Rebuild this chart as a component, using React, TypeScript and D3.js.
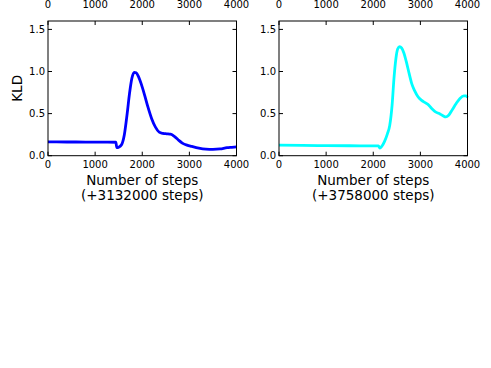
import { useRef, useEffect } from "react";
import * as d3 from "d3";

// steps (x) and KLD (y)
const leftSteps = [0, 400, 800, 1200, 1440, 1460, 1500, 1560, 1620, 1680, 1730, 1780, 1830, 1870, 1920, 1980, 2050, 2120, 2200, 2280, 2360, 2440, 2520, 2600, 2680, 2760, 2850, 2950, 3050, 3200, 3350, 3500, 3650, 3800, 3900, 4000];
const leftKld = [0.165, 0.163, 0.162, 0.161, 0.16, 0.095, 0.1, 0.13, 0.25, 0.5, 0.74, 0.92, 0.99, 0.985, 0.94, 0.85, 0.72, 0.58, 0.44, 0.34, 0.28, 0.265, 0.26, 0.255, 0.23, 0.19, 0.15, 0.125, 0.11, 0.09, 0.078, 0.075, 0.08, 0.095, 0.1, 0.105];

const rightSteps = [0, 500, 1000, 1500, 2000, 2110, 2140, 2180, 2240, 2300, 2350, 2400, 2440, 2480, 2520, 2560, 2600, 2650, 2700, 2760, 2820, 2880, 2950, 3020, 3100, 3160, 3240, 3320, 3400, 3480, 3540, 3600, 3680, 3760, 3840, 3920, 3970, 4000];
const rightKld = [0.125, 0.122, 0.12, 0.118, 0.117, 0.116, 0.09, 0.11, 0.17, 0.26, 0.36, 0.6, 0.92, 1.15, 1.27, 1.295, 1.28, 1.22, 1.12, 0.98, 0.85, 0.77, 0.7, 0.66, 0.63, 0.61, 0.56, 0.52, 0.5, 0.475, 0.46, 0.48, 0.55, 0.62, 0.68, 0.71, 0.71, 0.69];

const xTicks = [0, 1000, 2000, 3000, 4000];
const yTicks = [0.0, 0.5, 1.0, 1.5];
const panels = [
  { x0: 48, steps: leftSteps, kld: leftKld, color: "#0000ff", offset: "(+3132000 steps)", ylabel: true },
  { x0: 279, steps: rightSteps, kld: rightKld, color: "#00ffff", offset: "(+3758000 steps)", ylabel: false },
];

const App = () => {
  const svgRef = useRef<SVGSVGElement>(null);

  useEffect(() => {
    const svg = d3.select(svgRef.current);
    svg.selectAll("*").remove();
    const w = 188.5;
    const top = 21;
    const bottom = 155.7;
    const font = "DejaVu Sans";

    panels.forEach((p) => {
      const x = d3.scaleLinear().domain([0, 4000]).range([p.x0, p.x0 + w]);
      const y = d3.scaleLinear().domain([0, 1.6]).range([bottom, top]);
      const g = svg.append("g");

      const line = d3
        .line<number>()
        .x((d, i) => x(p.steps[i]))
        .y((d) => y(d))
        .curve(d3.curveMonotoneX);

      g.append("path")
        .datum(p.kld)
        .attr("d", line)
        .attr("fill", "none")
        .attr("stroke", p.color)
        .attr("stroke-width", 2.8)
        .attr("stroke-linejoin", "round");

      g.append("rect")
        .attr("x", p.x0)
        .attr("y", top)
        .attr("width", w)
        .attr("height", bottom - top)
        .attr("fill", "none")
        .attr("stroke", "#000")
        .attr("stroke-width", 1);

      // inward ticks on all four sides
      xTicks.forEach((t) => {
        g.append("line").attr("x1", x(t)).attr("x2", x(t)).attr("y1", bottom).attr("y2", bottom - 4).attr("stroke", "#000");
        g.append("line").attr("x1", x(t)).attr("x2", x(t)).attr("y1", top).attr("y2", top + 4).attr("stroke", "#000");
        g.append("text")
          .attr("x", x(t))
          .attr("y", bottom + 12)
          .attr("text-anchor", "middle")
          .style("font-family", font)
          .style("font-size", "10px")
          .text(t);
        // labels of the row above, cut at the top edge
        g.append("text")
          .attr("x", x(t))
          .attr("y", 8)
          .attr("text-anchor", "middle")
          .style("font-family", font)
          .style("font-size", "10px")
          .text(t);
      });
      yTicks.forEach((t) => {
        g.append("line").attr("x1", p.x0).attr("x2", p.x0 + 4).attr("y1", y(t)).attr("y2", y(t)).attr("stroke", "#000");
        g.append("line").attr("x1", p.x0 + w).attr("x2", p.x0 + w - 4).attr("y1", y(t)).attr("y2", y(t)).attr("stroke", "#000");
        g.append("text")
          .attr("x", p.x0 - 3)
          .attr("y", y(t) + 3.7)
          .attr("text-anchor", "end")
          .style("font-family", font)
          .style("font-size", "10px")
          .text(t.toFixed(1));
      });

      const cx = p.x0 + w / 2;
      g.append("text")
        .attr("x", cx)
        .attr("y", 184.5)
        .attr("text-anchor", "middle")
        .style("font-family", font)
        .style("font-size", "13.5px")
        .text("Number of steps");
      g.append("text")
        .attr("x", cx)
        .attr("y", 200)
        .attr("text-anchor", "middle")
        .style("font-family", font)
        .style("font-size", "13.5px")
        .text(p.offset);

      if (p.ylabel) {
        g.append("text")
          .attr("transform", `translate(22,${(top + bottom) / 2}) rotate(-90)`)
          .attr("text-anchor", "middle")
          .style("font-family", font)
          .style("font-size", "13.5px")
          .text("KLD");
      }
    });
  }, []);

  return (
    <svg
      ref={svgRef}
      width={491}
      height={368}
      style={{ position: "absolute", left: 0, top: 0, background: "#fff" }}
    />
  );
};

export default App;
